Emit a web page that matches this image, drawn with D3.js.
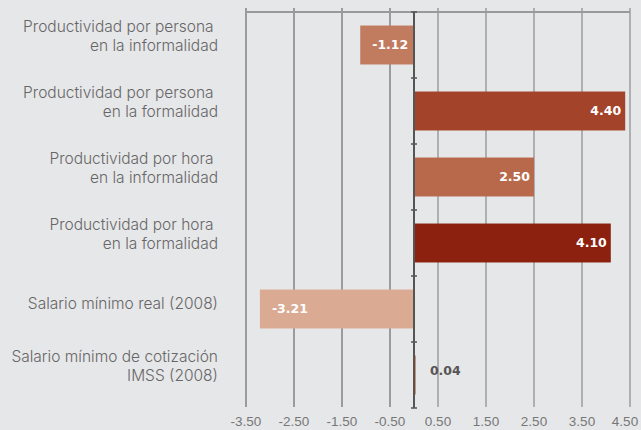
<!DOCTYPE html>
<html>
<head>
    <script src='https://cdn.jsdelivr.net/npm/d3@7'></script>
    <style type='text/css'>
        html, body {
            margin: 0;
            padding: 0;
            background: #E6E7E9;
        }
        text {
            font-family: Inter, 'Liberation Sans', Arial, sans-serif;
            font-weight: 300;
        }
        .vlabel {
            font-family: 'DejaVu Sans', sans-serif;
            font-weight: bold;
        }
        .tick {
            font-family: 'Liberation Sans', Arial, sans-serif;
            font-weight: normal;
        }
    </style>
</head>
<body>
    <script>
        // Data:
        const categories = [
            ['Productividad por persona ', 'en la informalidad'],
            ['Productividad por persona ', 'en la formalidad'],
            ['Productividad por hora ', 'en la informalidad'],
            ['Productividad por hora ', 'en la formalidad'],
            ['Salario mínimo real (2008)'],
            ['Salario mínimo de cotización', 'IMSS (2008)']
        ];
        const values = [-1.12, 4.40, 2.50, 4.10, -3.21, 0.04];
        const barColors = ['#C17B5F', '#A3432A', '#B8694B', '#8C2110', '#DAAA93', '#C9896F'];
        const tickValues = [-3.5, -2.5, -1.5, -0.5, 0.5, 1.5, 2.5, 3.5, 4.5];

        // page setup:
        const width = 641, height = 430;
        const svg = d3.select('body').append('svg')
            .attr('width', width)
            .attr('height', height);

        const keys = categories.map((d, i) => i);
        const x = d3.scaleLinear().domain([-3.5, 4.5]).range([246, 630]);
        const y = d3.scaleBand().domain(keys).range([12, 408])
            .paddingInner(0.41).paddingOuter(0.205);
        // plain hyphen for negatives, like the original
        const fmt = d3.formatLocale({ decimal: '.', thousands: ',', grouping: [3], currency: ['$', ''], minus: '-' }).format('.2f');

        // gridlines
        svg.append('g')
            .selectAll('line')
            .data(tickValues).join('line')
            .attr('x1', d => x(d)).attr('x2', d => x(d))
            .attr('y1', 8).attr('y2', 407)
            .attr('stroke', d => d < 0 ? '#6a6a6a' : '#8a8a8a')
            .attr('stroke-width', 1.2);

        // top axis line
        svg.append('line')
            .attr('x1', x(-3.5)).attr('x2', x(4.5))
            .attr('y1', 12).attr('y2', 12)
            .attr('stroke', '#999')
            .attr('stroke-width', 2);

        // bottom tick labels (last one pulled in so it fits)
        svg.append('g')
            .selectAll('text')
            .data(tickValues).join('text')
            .attr('class', 'tick')
            .attr('x', d => Math.min(x(d), width - 16))
            .attr('y', 421)
            .attr('text-anchor', 'middle')
            .attr('dominant-baseline', 'central')
            .attr('font-size', 13.5)
            .attr('fill', '#777')
            .text(fmt);

        // bars
        svg.append('g')
            .selectAll('rect')
            .data(values).join('rect')
            .attr('x', d => x(Math.min(0, d)))
            .attr('width', d => Math.abs(x(d) - x(0)))
            .attr('y', (d, i) => y(i))
            .attr('height', y.bandwidth())
            .attr('fill', (d, i) => barColors[i]);

        // zero axis with caps
        svg.append('line')
            .attr('x1', x(0)).attr('x2', x(0))
            .attr('y1', 12).attr('y2', 408)
            .attr('stroke', '#555')
            .attr('stroke-width', 2);
        const caps = keys.map(k => y(k) - y.step() * y.paddingInner() / 2).concat([408]);
        svg.append('g')
            .selectAll('line')
            .data(caps).join('line')
            .attr('x1', x(0) - 3).attr('x2', x(0) + 3)
            .attr('y1', d => d).attr('y2', d => d)
            .attr('stroke', '#555')
            .attr('stroke-width', 1.5);

        // value labels
        let small = d => Math.abs(d) < 0.3;
        svg.append('g')
            .selectAll('text')
            .data(values).join('text')
            .attr('class', 'vlabel')
            .attr('x', d => {
                if (small(d)) return x(d) + 14;
                return d < 0 ? x(d) + 12 : x(d) - 4;
            })
            .attr('y', (d, i) => y(i) + y.bandwidth() / 2 + (small(d) ? -5 : -1))
            .attr('text-anchor', d => (d < 0 || small(d)) ? 'start' : 'end')
            .attr('dominant-baseline', 'central')
            .attr('font-size', 12.5)
            .attr('fill', d => small(d) ? '#555' : '#fff')
            .text(fmt);

        // category labels
        const lab = svg.append('g')
            .selectAll('text')
            .data(categories).join('text')
            .attr('text-anchor', 'end')
            .attr('font-size', 15.5)
            .attr('fill', '#666')
            .style('white-space', 'pre')
            .attr('transform', (d, i) => `translate(218, ${y(i) + y.bandwidth() / 2})`);
        lab.selectAll('tspan')
            .data(d => d.map((t, j) => ({ t, j, n: d.length })))
            .join('tspan')
            .attr('x', 0)
            .attr('y', d => d.n === 1 ? -6 : (d.j === 0 ? -19 : 0))
            .attr('dominant-baseline', 'central')
            .text(d => d.t);
    </script>
</body>
</html>
